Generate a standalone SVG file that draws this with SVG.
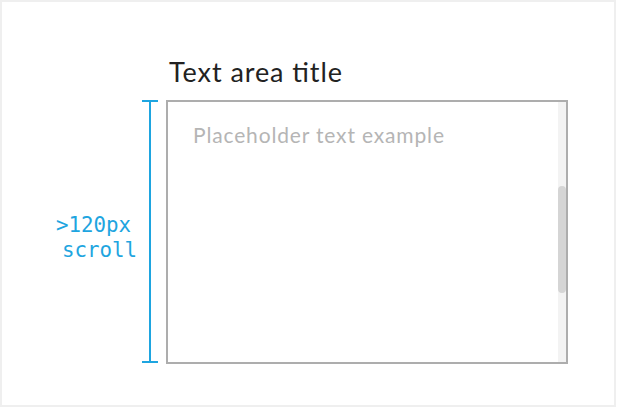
<svg xmlns="http://www.w3.org/2000/svg" width="617" height="408" viewBox="0 0 617 408">
<style>
.blue{stroke:#1ea5e0;stroke-width:2;fill:none}
.bt{font-family:"DejaVu Sans Mono","Liberation Mono",monospace;font-size:20.8px;fill:#1ea5e0}
</style>
<rect x="0" y="0" width="617" height="408" fill="#ffffff"/>
<rect x="1" y="1" width="614" height="405" fill="none" stroke="#efefef" stroke-width="2"/>
<g id="title">
<text x="169" y="82" font-family="Lato,'Open Sans',sans-serif" font-size="27" fill="#222222" textLength="173" lengthAdjust="spacing">Text area title</text>
</g>
<g id="textarea">
<rect x="167" y="101" width="400" height="262" fill="#ffffff" stroke="#adadad" stroke-width="2"/>
<rect x="558" y="102" width="8" height="260" fill="#f3f3f3"/>
<rect x="558" y="186" width="8" height="107" rx="4" fill="#d5d5d5"/>
<text x="193" y="143" font-family="Lato,'Open Sans',sans-serif" font-size="21" fill="#b5b5b5" textLength="251" lengthAdjust="spacing">Placeholder text example</text>
</g>
<g id="dimension">
<line class="blue" x1="150" y1="101" x2="150" y2="363"/>
<line class="blue" x1="142" y1="101" x2="158" y2="101"/>
<line class="blue" x1="142" y1="362" x2="158" y2="362"/>
<text class="bt" x="56" y="232" textLength="75" lengthAdjust="spacing">&gt;120px</text>
<text class="bt" x="62" y="257" textLength="75" lengthAdjust="spacing">scroll</text>
</g>
</svg>
